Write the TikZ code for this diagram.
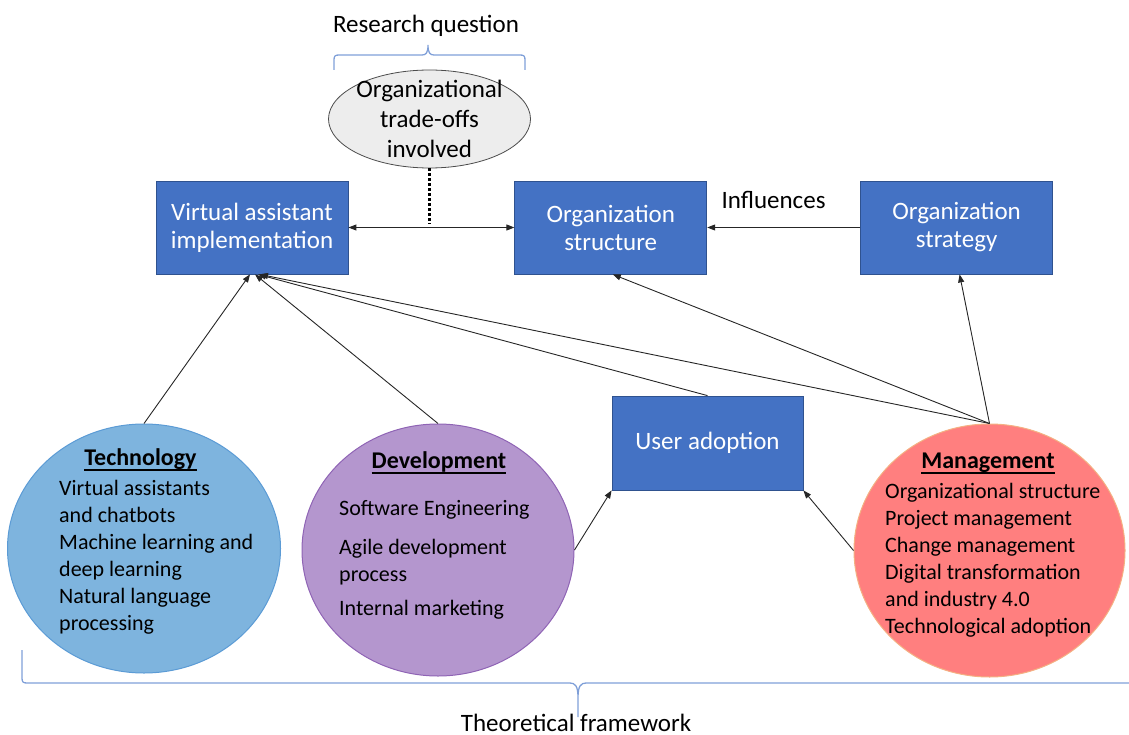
\documentclass[tikz,border=0pt]{standalone}
\usepackage{fontspec}
\setmainfont{Carlito}
\usetikzlibrary{arrows.meta, positioning, shapes.geometric}
\definecolor{boxblue}{HTML}{4472C4}
\definecolor{boxedge}{HTML}{2F528F}
\definecolor{techfill}{HTML}{7EB4DE}
\definecolor{techedge}{HTML}{5B9BD5}
\definecolor{devfill}{HTML}{B496CE}
\definecolor{devedge}{HTML}{8F64B5}
\definecolor{mgmtfill}{HTML}{FF7F7F}
\definecolor{mgmtedge}{HTML}{F4B183}
\definecolor{rqfill}{HTML}{EDEDED}
\definecolor{bracecol}{HTML}{7F9FD8}
\newcommand{\topicname}[1]{\setbox0\hbox{#1}\rlap{\copy0}\raisebox{-5.5pt}{\rule{\wd0}{1.8pt}}}

\begin{document}
\begin{tikzpicture}[
    x=1pt, y=-1pt,
    every node/.style={inner sep=0pt},
    block/.style={
        rectangle, draw=boxedge, fill=boxblue, line width=0.8pt,
        minimum width=192pt, minimum height=93pt, align=center,
        text=white, font=\fontsize{25}{28}\selectfont
    },
    topic/.style={ellipse, draw=#1edge, fill=#1fill, line width=1pt},
    heading/.style={anchor=base, font=\fontsize{24}{28}\selectfont\bfseries},
    items/.style={anchor=base west, align=left, font=\fontsize{22}{27}\selectfont},
    caption/.style={anchor=base, font=\fontsize{25}{28}\selectfont},
    flow/.style={-{Triangle[length=8pt, width=6pt]}, line width=0.9pt, black!85},
    twoway/.style={{Triangle[length=8pt, width=6pt]}-{Triangle[length=8pt, width=6pt]},
        line width=0.9pt, black!85},
    brace/.style={bracecol, line width=1.3pt},
]
\useasboundingbox (0,0) rectangle (1129,735);

% ===== Top row: boxes =====
\node[block] (va) at (252,227.5) {Virtual assistant\\implementation};
\node[block, right=166pt of va] (os) {Organization\\structure};
\node[block, right=153pt of os] (ost) {Organization\\strategy};

% Research question bubble
\node[ellipse, draw=black!70, fill=rqfill, line width=0.8pt,
      minimum width=202pt, minimum height=98pt] (rq) at (429.5,119) {};
\node[align=center, font=\fontsize{25}{30}\selectfont] (rqtext) at (rq.center)
    {Organizational\\trade-offs\\involved};
\node[caption] (rqlabel) at (426,33) {Research question};
\node[caption] (infl) at (773.5,209) {Influences};

% ===== Middle: user adoption =====
\node[block, minimum width=191pt, minimum height=94pt] (ua) at (707.5,443) {User adoption};

% ===== Bottom row: theory areas =====
\node[topic=tech, minimum width=273pt, minimum height=249pt] (tech) at (144,548.5) {};
\node[topic=dev, minimum width=272pt, minimum height=252pt] (dev) at (438,550) {};
\node[topic=mgmt, minimum width=271pt, minimum height=253pt] (mgmt) at (989.5,550.5) {};

% lists are anchored at the baseline of their last line
\node[heading] (techhead) at (140.5,465) {\topicname{Technology}};
\node[items] (techlist) at (59,630)
    {Virtual assistants\\and chatbots\\Machine learning and\\deep learning\\Natural language\\processing};

\node[heading] (devhead) at (439,468) {\topicname{Development}};
\node[items] (devlist) at (339,615)
    {Software Engineering\\[12pt]Agile development\\process\\[7pt]Internal marketing};

\node[heading] (mgmthead) at (988,468) {\topicname{Management}};
\node[items] (mgmtlist) at (885,633)
    {Organizational structure\\Project management\\Change management\\Digital transformation\\and industry 4.0\\Technological adoption};

\node[caption] (tflabel) at (576,731.5) {Theoretical framework};

% ===== Connectors =====
\draw[twoway] (va.east) -- (va.east -| os.west);
\draw[flow] (ost.west) -- (os.east);

% dotted link from the question to the arrow
\coordinate (dotbase) at (rq.south |- va.east);
\draw[line width=2.5pt, dash pattern=on 2.5pt off 2.5pt] (rq.south) -- ([yshift=3pt]dotbase);

% everything feeds the implementation
\draw[flow] (tech.north) -- ([xshift=-2pt]va.south);
\draw[flow] (dev.north) -- ([xshift=3pt]va.south);
\draw[flow] (ua.north) -- ([xshift=6pt]va.south);
\draw[flow] (mgmt.north) -- ([xshift=8pt]va.south);
\draw[flow] (mgmt.north) -- ([xshift=2pt]os.south);
\draw[flow] (mgmt.north) -- ([xshift=3pt]ost.south);

% into user adoption
\draw[flow] (dev.east) -- (ua.south west);
\draw[flow] (mgmt.west) -- (ua.south east);

% ===== Braces =====
\draw[brace] (334,70) -- (334,60) .. controls (334,56) and (335,55) .. (339,55)
    -- (422,55) .. controls (426,55) and (428,53) .. (428,45)
    .. controls (428,53) and (430,55) .. (434,55)
    -- (520,55) .. controls (524,55) and (525,56) .. (525,60) -- (525,70);
\draw[brace] (22,650) -- (22,678) .. controls (22,682) and (23,683) .. (27,683)
    -- (570,683) .. controls (575,683) and (578,686) .. (578,697) -- (578,717)
    -- (578,697) .. controls (578,686) and (581,683) .. (586,683) -- (1129,683);

\end{tikzpicture}
\end{document}
